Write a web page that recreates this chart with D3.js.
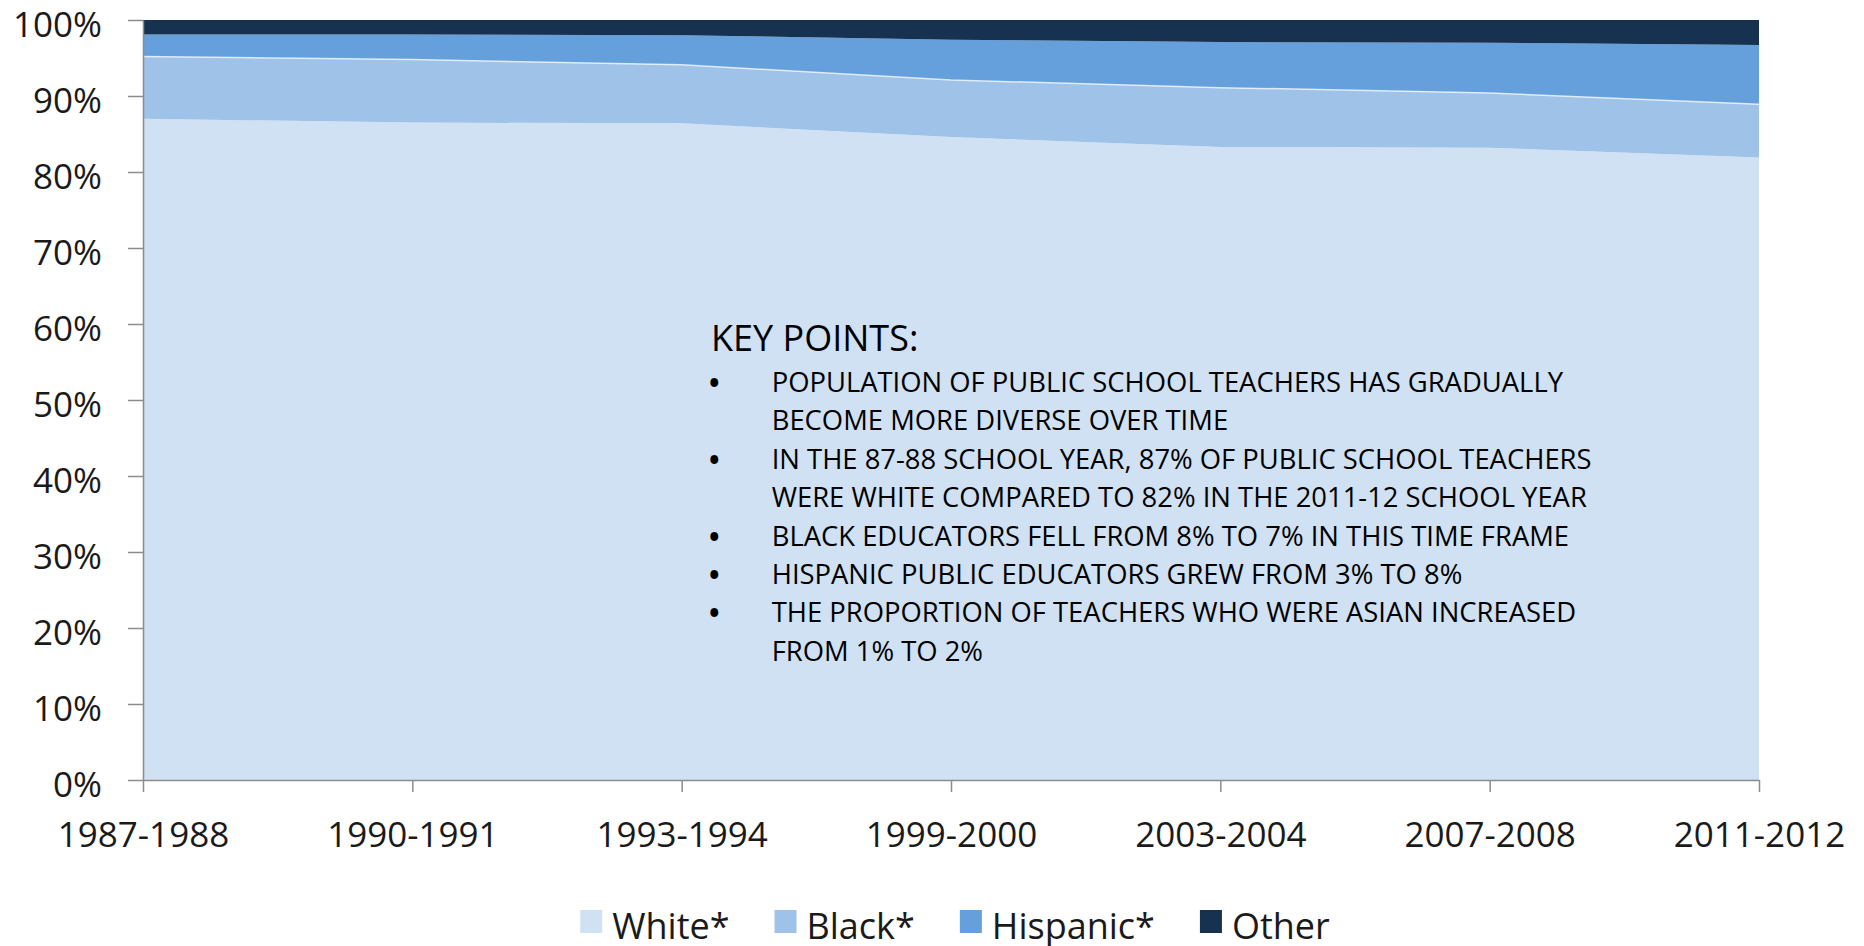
<!DOCTYPE html>
<html>
<head>
<meta charset="utf-8">
<script src="https://cdn.jsdelivr.net/npm/d3@7"></script>
<style>
	body { margin: 0; background: #fff; }
	svg { display: block; font-family: 'Open Sans', sans-serif; }
	.tick text { fill: #1a1a1a; }
</style>
</head>
<body>
<svg class="chart"></svg>
<script>
const years = ['1987-1988', '1990-1991', '1993-1994', '1999-2000', '2003-2004', '2007-2008', '2011-2012'];
const white = [87.0, 86.5, 86.4, 84.6, 83.3, 83.2, 81.9];
const black = [8.2, 8.3, 7.7, 7.5, 7.8, 7.2, 7.0];
const hispanic = [2.9, 3.3, 3.9, 5.3, 6.0, 6.6, 7.8];
const other = [1.9, 1.9, 2.0, 2.6, 2.9, 3.0, 3.3];
const seriesNames = ['White*', 'Black*', 'Hispanic*', 'Other'];
const yTicks = [0, 10, 20, 30, 40, 50, 60, 70, 80, 90, 100];
const keyTitle = 'KEY POINTS:';
const keyLines = [
	['POPULATION OF PUBLIC SCHOOL TEACHERS HAS GRADUALLY', 'BECOME MORE DIVERSE OVER TIME'],
	['IN THE 87-88 SCHOOL YEAR, 87% OF PUBLIC SCHOOL TEACHERS', 'WERE WHITE COMPARED TO 82% IN THE 2011-12 SCHOOL YEAR'],
	['BLACK EDUCATORS FELL FROM 8% TO 7% IN THIS TIME FRAME'],
	['HISPANIC PUBLIC EDUCATORS GREW FROM 3% TO 8%'],
	['THE PROPORTION OF TEACHERS WHO WERE ASIAN INCREASED', 'FROM 1% TO 2%']
];

const colors = ['#d0e1f3', '#9fc2e9', '#65a0dd', '#163250'];

const svg = d3.select('.chart')
	.attr('width', 1864)
	.attr('height', 946);

let width = +svg.attr('width'),
	height = +svg.attr('height'),
	margin = { top: 20, right: 105, bottom: 166, left: 143 },
	innerWidth = width - margin.left - margin.right,
	innerHeight = height - margin.top - margin.bottom;

const table = years.map((year, i) => ({
	year: year,
	'White*': white[i],
	'Black*': black[i],
	'Hispanic*': hispanic[i],
	'Other': other[i]
}));

const stacked = d3.stack().keys(seriesNames)(table);

const xScale = d3.scalePoint()
	.domain(years)
	.range([0, innerWidth]);

const yScale = d3.scaleLinear()
	.domain([0, 100])
	.range([innerHeight, 0]);

const color = d3.scaleOrdinal()
	.domain(seriesNames)
	.range(colors);

const areaGenerator = d3.area()
	.x(d => xScale(d.data.year))
	.y0(d => yScale(d[0]))
	.y1(d => yScale(d[1]));

const topLine = d3.line()
	.x(d => xScale(d.data.year))
	.y(d => yScale(d[1]));

const g = svg.append('g')
	.attr('transform', `translate(${margin.left}, ${margin.top})`);

g.selectAll('.layer')
	.data(stacked)
	.enter().append('path')
	.attr('class', 'layer')
	.attr('fill', d => color(d.key))
	.attr('d', areaGenerator);

// light edge on top of the Black* band
g.append('path')
	.attr('fill', 'none')
	.attr('stroke', '#ffffff')
	.attr('stroke-opacity', 0.7)
	.attr('stroke-width', 1.5)
	.attr('d', topLine(stacked[1]));

const yAxis = d3.axisLeft(yScale)
	.tickValues(yTicks)
	.tickFormat(d => d + '%')
	.tickSizeInner(15)
	.tickSizeOuter(0)
	.tickPadding(26);
const yAxisG = g.append('g').call(yAxis);
yAxisG.selectAll('text')
	.attr('font-size', 35)
	.attr('font-family', "'Open Sans', sans-serif")
	.attr('dy', '0.47em');

const xAxis = d3.axisBottom(xScale)
	.tickSizeInner(12)
	.tickSizeOuter(0)
	.tickPadding(0);
const xAxisG = g.append('g').call(xAxis)
	.attr('transform', `translate(0, ${innerHeight})`);
xAxisG.selectAll('text')
	.attr('font-size', 35)
	.attr('font-family', "'Open Sans', sans-serif")
	.attr('y', 67)
	.attr('dy', 0);

svg.selectAll('.domain, .tick line')
	.attr('stroke', '#8c8c8c')
	.attr('stroke-width', 1.5);

// key points box
const notes = svg.append('g').attr('class', 'notes');
notes.append('text')
	.attr('x', 711)
	.attr('y', 351)
	.attr('font-size', 36)
	.attr('fill', '#000')
	.text(keyTitle);

let row = 0;
keyLines.forEach(item => {
	notes.append('text')
		.attr('x', 709)
		.attr('y', 393 + row * 38.4)
		.attr('font-size', 28)
		.attr('font-weight', 'bold')
		.text('\u2022');
	item.forEach(line => {
		notes.append('text')
			.attr('x', 771.7)
			.attr('y', 392 + row * 38.4)
			.attr('font-size', 27.4)
			.attr('fill', '#000')
			.text(line);
		row++;
	});
});

// legend
const legend = svg.append('g').attr('class', 'legend');
const items = legend.selectAll('g')
	.data(seriesNames)
	.enter().append('g');
items.append('rect')
	.attr('width', 22)
	.attr('height', 23)
	.attr('y', 910)
	.attr('fill', d => color(d));
items.append('text')
	.attr('x', 32)
	.attr('y', 938.5)
	.attr('font-size', 36)
	.attr('fill', '#1a1a1a')
	.text(d => d);

let pos = 0;
const gap = 45;
items.each(function() {
	const el = d3.select(this);
	el.attr('transform', `translate(${pos}, 0)`);
	pos += 32 + el.select('text').node().getComputedTextLength() + gap;
});
const legendWidth = pos - gap;
legend.attr('transform', `translate(${margin.left + innerWidth / 2 - legendWidth / 2 + 4}, 0)`);
</script>
</body>
</html>
